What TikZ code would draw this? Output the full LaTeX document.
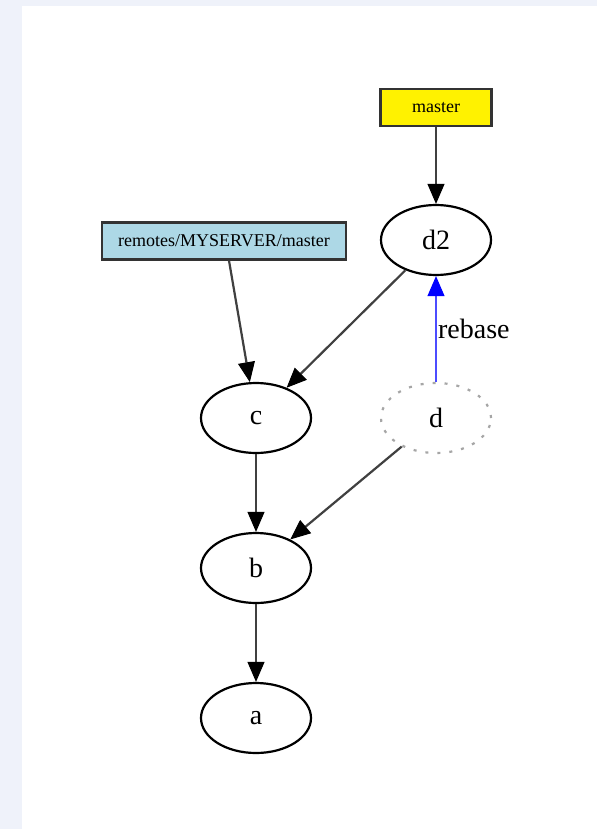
\documentclass[tikz,border=0pt]{standalone}
\usepackage{fontspec}
\setmainfont{Liberation Serif}
\usetikzlibrary{shapes.geometric,arrows.meta}
\definecolor{pagebg}{RGB}{239,242,250}
\definecolor{lightbluebox}{RGB}{173,216,230}
\begin{document}
\begin{tikzpicture}[x=0.5pt,y=-0.5pt,
  commit/.style={ellipse, draw=black, line width=1.1pt, minimum width=55pt, minimum height=35pt, inner sep=0pt, font=\fontsize{14}{16}\selectfont},
  refbox/.style={rectangle, draw=black!80, line width=1.1pt, font=\fontsize{9}{10}\selectfont, inner sep=0pt, minimum height=18.5pt},
  edge/.style={draw=black!75, line width=1.1pt, -{Triangle[length=10pt,width=8.5pt,color=black,fill=black,line width=0.5pt]}}]
\fill[pagebg] (0,0) rectangle (597,829);
\fill[white] (22,6) rectangle (597,829);
\useasboundingbox (0,0) rectangle (597,829);

\node[refbox, fill=yellow, minimum width=55.5pt] (master) at (436,107.5) {master};
\node[refbox, fill=lightbluebox, minimum width=122pt] (remote) at (224,241) {remotes/MYSERVER/master};
\node[commit] (d2) at (436,240) {d2};
\node[commit] (c) at (256,418) {c};
\node[commit, draw=gray!70, dash pattern=on 1.5pt off 4.5pt] (d) at (436,418) {d};
\node[commit] (b) at (256,568) {b};
\node[commit] (a) at (256,718) {a};

\draw[edge] (master) -- (d2);
\draw[edge] ([xshift=2.5pt]remote.south) -- (c);
\draw[edge] (d2) -- (c);
\draw[edge] (c) -- (b);
\draw[edge] (d) -- (b);
\draw[edge] (b) -- (a);
\draw[draw=blue!70, line width=1.1pt, -{Triangle[length=10pt,width=8.5pt,color=blue,fill=blue,line width=0.5pt]}] (d) -- (d2) node[midway, right, inner sep=0.5pt, text=black, font=\fontsize{14}{16}\selectfont] (lbl) {rebase};
\end{tikzpicture}
\end{document}
